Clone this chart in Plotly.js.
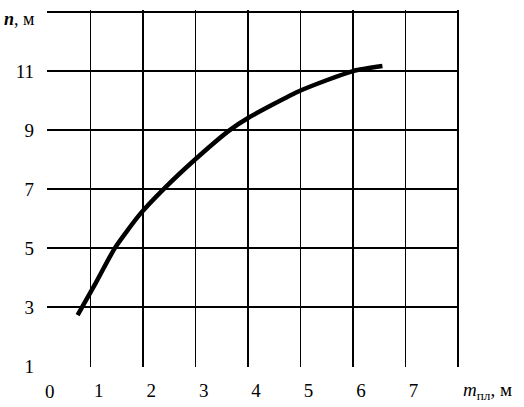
<!DOCTYPE html>
<html>
<head>
<meta charset="utf-8">
<script src="https://cdn.plot.ly/plotly-3.0.1.min.js"></script>
<style>html,body{margin:0;padding:0;background:#fff;}#chart{width:524px;height:407px;}</style>
</head>
<body>
<div id="chart"></div>
<script>
var mValues = [0.75, 1.10, 1.46, 1.94, 2.39, 3.0, 3.65, 4.0, 5.0, 6.0, 6.56];
var nValues = [2.73, 3.83, 5.0, 6.15, 7.0, 8.02, 9.0, 9.41, 10.34, 11.0, 11.17];
var xTickVals = [1, 2, 3, 4, 5, 6, 7, 8];
var xTickText = ['1', '2', '3', '4', '5', '6', '7', ''];
var yTickVals = [1, 3, 5, 7, 9, 11, 13];
var yTickText = ['1', '3', '5', '7', '9', '11', ''];

var font = 'Liberation Serif';

var trace = {
  x: mValues, y: nValues, mode: 'lines', type: 'scatter',
  line: {color: '#000', width: 4.5, shape: 'spline', smoothing: 0.6},
  hoverinfo: 'skip'
};

var layout = {
  width: 524, height: 407,
  margin: {l: 47, r: 65, t: 10, b: 40},
  paper_bgcolor: '#fff', plot_bgcolor: '#fff',
  showlegend: false,
  font: {family: font, size: 18, color: '#000'},
  xaxis: {
    range: [0.167, 8.02], tickvals: xTickVals, ticktext: xTickText,
    showgrid: true, gridcolor: '#000', gridwidth: 1.5,
    zeroline: false, showline: false, ticks: '',
    ticklabelshift: 8, ticklabelstandoff: 10,
    tickfont: {family: font, size: 19, color: '#000'}
  },
  yaxis: {
    range: [0.97, 13.07], tickvals: yTickVals, ticktext: yTickText,
    showgrid: true, gridcolor: '#000', gridwidth: 1.5,
    zeroline: false, showline: false, ticks: '',
    ticklabelstandoff: 12,
    tickfont: {family: font, size: 19, color: '#000'}
  },
  annotations: [
    {text: '0', xref: 'paper', yref: 'paper', x: 0, y: 0, xanchor: 'left', yanchor: 'top', xshift: -4, yshift: -12, showarrow: false, font: {family: font, size: 19, color: '#000'}},
    {text: '<b><i>n</i></b>, м', xref: 'paper', yref: 'paper', x: 0, y: 1, xanchor: 'right', yanchor: 'middle', xshift: -11, yshift: -9, showarrow: false, font: {family: font, size: 18, color: '#000'}},
    {text: '<i>m</i><sub>пл</sub>, м', xref: 'paper', yref: 'paper', x: 1, y: 0, xanchor: 'left', yanchor: 'top', xshift: 2, yshift: -10, showarrow: false, font: {family: font, size: 19, color: '#000'}}
  ]
};

Plotly.newPlot('chart', [trace], layout, {displayModeBar: false, staticPlot: true});
</script>
</body>
</html>
